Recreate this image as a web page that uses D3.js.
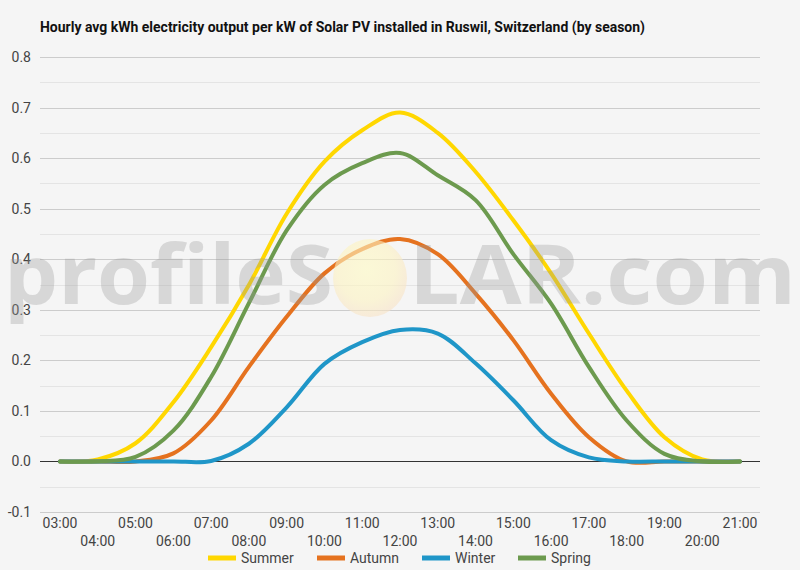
<!DOCTYPE html>
<html>
<head>
<meta charset="utf-8">
<script src="https://cdn.jsdelivr.net/npm/d3@7"></script>
<style>
  body { margin: 0; background: #f5f5f5; }
  svg { display: block; font-family: Roboto, sans-serif; }
</style>
</head>
<body>
<svg></svg>
<script>
// set the dimensions of the graph
var width = 800,
    height = 570;

// hours of the day (03:00 .. 21:00)
var hours = [3, 4, 5, 6, 7, 8, 9, 10, 11, 12, 13, 14, 15, 16, 17, 18, 19, 20, 21];
var hourLabels = hours.map(function(h) { return (h < 10 ? "0" : "") + h + ":00"; });

// hourly avg kWh per kW
var summer = [0, 0.004, 0.036, 0.117, 0.226, 0.349, 0.49, 0.593, 0.655, 0.69, 0.65, 0.573, 0.477, 0.372, 0.253, 0.14, 0.048, 0.004, 0];
var autumn = [0, 0, 0, 0.016, 0.081, 0.187, 0.286, 0.372, 0.42, 0.44, 0.41, 0.332, 0.24, 0.134, 0.048, 0, 0, 0, 0];
var winter = [0, 0, 0, 0, 0.001, 0.035, 0.107, 0.193, 0.236, 0.26, 0.253, 0.194, 0.121, 0.042, 0.008, 0, 0, 0, 0];
var spring = [0, 0, 0.009, 0.061, 0.167, 0.313, 0.457, 0.547, 0.59, 0.61, 0.566, 0.517, 0.41, 0.312, 0.187, 0.081, 0.015, 0, 0];

var seriesNames = ["Summer", "Autumn", "Winter", "Spring"];
var seriesValues = [summer, autumn, winter, spring];
var seriesColors = ["#ffd700", "#e5721f", "#1f96c8", "#6c9a4e"];

var yTicks = [-0.1, 0, 0.1, 0.2, 0.3, 0.4, 0.5, 0.6, 0.7, 0.8];
var yMinor = [-0.05, 0.05, 0.15, 0.25, 0.35, 0.45, 0.55, 0.65, 0.75];

var svg = d3.select("svg")
    .attr("width", width)
    .attr("height", height);

svg.append("rect")
    .attr("width", width)
    .attr("height", height)
    .attr("fill", "#f5f5f5");

// scales
var x = d3.scaleLinear().domain([3, 21]).range([60, 740]);
var y = d3.scaleLinear().domain([-0.1, 0.8]).range([512, 57]);

// title
svg.append("text")
    .attr("x", 40)
    .attr("y", 32)
    .attr("font-size", 14)
    .attr("font-weight", "bold")
    .attr("fill", "#111")
    .attr("textLength", 605)
    .attr("lengthAdjust", "spacingAndGlyphs")
    .text("Hourly avg kWh electricity output per kW of Solar PV installed in Ruswil, Switzerland (by season)");

// grid lines
svg.append("g")
    .selectAll("line")
    .data(yMinor)
    .enter()
    .append("line")
    .attr("x1", 40).attr("x2", 760)
    .attr("y1", function(d) { return Math.round(y(d)) + 0.5; })
    .attr("y2", function(d) { return Math.round(y(d)) + 0.5; })
    .attr("stroke", "#e4e4e4");

svg.append("g")
    .selectAll("line")
    .data(yTicks)
    .enter()
    .append("line")
    .attr("x1", 40).attr("x2", 760)
    .attr("y1", function(d) { return Math.round(y(d)) + 0.5; })
    .attr("y2", function(d) { return Math.round(y(d)) + 0.5; })
    .attr("stroke", function(d) { return d === 0 ? "#333" : "#cccccc"; });

// y labels
svg.append("g")
    .selectAll("text")
    .data(yTicks)
    .enter()
    .append("text")
    .attr("x", 31)
    .attr("y", function(d) { return y(d) + 5; })
    .attr("text-anchor", "end")
    .attr("font-size", 14)
    .attr("fill", "#444")
    .text(function(d) { return d3.format(".1f")(d).replace("−", "-"); });

// x labels, staggered in two rows
svg.append("g")
    .selectAll("text")
    .data(hours)
    .enter()
    .append("text")
    .attr("x", function(d) { return x(d); })
    .attr("y", function(d, i) { return i % 2 === 0 ? 528 : 546; })
    .attr("text-anchor", "middle")
    .attr("font-size", 14)
    .attr("fill", "#444")
    .text(function(d, i) { return hourLabels[i]; });

// the lines
var line = d3.line()
    .x(function(d, i) { return x(hours[i]); })
    .y(function(d) { return y(d); })
    .curve(d3.curveCatmullRom.alpha(0.5));

svg.append("g")
    .selectAll("path")
    .data(seriesValues)
    .enter()
    .append("path")
    .attr("d", line)
    .attr("fill", "none")
    .attr("stroke", function(d, i) { return seriesColors[i]; })
    .attr("stroke-width", 4)
    .attr("stroke-linejoin", "round")
    .attr("stroke-linecap", "round");

// watermark
var defs = svg.append("defs");
var grad = defs.append("radialGradient").attr("id", "sun")
    .attr("cx", "45%").attr("cy", "40%").attr("r", "60%");
grad.append("stop").attr("offset", "0%").attr("stop-color", "#fffbc2");
grad.append("stop").attr("offset", "65%").attr("stop-color", "#fdf3c0");
grad.append("stop").attr("offset", "100%").attr("stop-color", "#f8e3c6");

var wm = svg.append("g").attr("pointer-events", "none");
wm.append("ellipse")
    .attr("cx", 370).attr("cy", 278)
    .attr("rx", 37).attr("ry", 39)
    .attr("fill", "url(#sun)")
    .attr("opacity", 0.6);
wm.append("text")
    .attr("x", 4).attr("y", 304)
    .attr("font-family", "'Open Sans', sans-serif")
    .attr("font-weight", "bold")
    .attr("font-size", 82)
    .attr("fill", "#9a9a9a")
    .attr("opacity", 0.32)
    .attr("textLength", 329)
    .attr("lengthAdjust", "spacingAndGlyphs")
    .text("profileS");
wm.append("text")
    .attr("x", 409).attr("y", 304)
    .attr("font-family", "'Open Sans', sans-serif")
    .attr("font-weight", "bold")
    .attr("font-size", 82)
    .attr("fill", "#9a9a9a")
    .attr("opacity", 0.32)
    .attr("textLength", 387)
    .attr("lengthAdjust", "spacingAndGlyphs")
    .text("LAR.com");

// legend
var legendX = [208, 317, 422, 518];
var legend = svg.append("g")
    .selectAll("g")
    .data(seriesNames)
    .enter()
    .append("g")
    .attr("transform", function(d, i) { return "translate(" + legendX[i] + ",558)"; });

legend.append("line")
    .attr("x1", 0).attr("x2", 28)
    .attr("stroke", function(d, i) { return seriesColors[i]; })
    .attr("stroke-width", 5);

legend.append("text")
    .attr("x", 33)
    .attr("y", 5)
    .attr("font-size", 14)
    .attr("fill", "#444")
    .text(function(d) { return d; });
</script>
</body>
</html>
